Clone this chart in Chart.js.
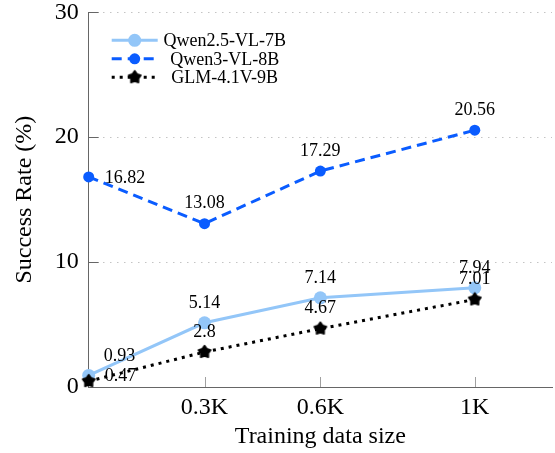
<!DOCTYPE html>
<html>
<head>
<meta charset="utf-8">
<script src="https://cdn.jsdelivr.net/npm/chart.js@4.4.1/dist/chart.umd.min.js"></script>
<style>
  html, body { margin: 0; padding: 0; background: #fff; }
  #wrap { width: 555px; height: 453px; position: relative; }
</style>
</head>
<body>
<div id="wrap"><canvas id="chart"></canvas></div>
<script>
// data ------------------------------------------------------------
const xValues = [0, 0.3, 0.6, 1.0];
const qwen25 = [0.93, 5.14, 7.14, 7.94];
const qwen3 = [16.82, 13.08, 17.29, 20.56];
const glm = [0.47, 2.8, 4.67, 7.01];
const xTickValues = [0.3, 0.6, 1.0];
const xTickLabels = ["0.3K", "0.6K", "1K"];
const yTickValues = [0, 10, 20, 30];

const serif = '"Liberation Serif", "Times New Roman", serif';
const tickFont = { family: serif, size: 24, lineHeight: 1.07 };
const titleFont = { family: serif, size: 24 };

const lightBlue = "#93C6F8",
  blue = "#0A5CFF",
  black = "#000";

// filled chunky star used as the GLM marker
function makeStar(r) {
  const s = Math.ceil(r * 2 + 3);
  const c = document.createElement("canvas");
  c.width = s; c.height = s;
  const g = c.getContext("2d");
  g.translate(s / 2, s / 2);
  g.beginPath();
  for (let i = 0; i < 10; i++) {
    const rad = i % 2 ? r * 0.62 : r;
    const a = -Math.PI / 2 + i * Math.PI / 5;
    g.lineTo(rad * Math.cos(a), rad * Math.sin(a));
  }
  g.closePath();
  g.fillStyle = black;
  g.fill();
  g.lineJoin = "round";
  g.lineWidth = 1.5;
  g.strokeStyle = black;
  g.stroke();
  return c;
}
const starImg = makeStar(6.5);

const toPoints = (ys) => xValues.map((x, i) => ({ x, y: ys[i] }));

// value labels near each point -------------------------------------
const pointLabels = {
  id: "pointLabels",
  afterDatasetsDraw(chart) {
    const ctx = chart.ctx;
    ctx.save();
    ctx.font = "18px " + serif;
    ctx.fillStyle = black;
    ctx.textBaseline = "middle";
    chart.data.datasets.forEach((ds, i) => {
      const meta = chart.getDatasetMeta(i);
      meta.data.forEach((pt, j) => {
        const v = ds.data[j].y;
        let x = pt.x, y = pt.y - 20;
        ctx.textAlign = "center";
        if (j === 0) {
          ctx.textAlign = "left";
          x = pt.x + ds.firstLabel.dx;
          y = pt.y + ds.firstLabel.dy;
        }
        ctx.fillText(String(v), x, y);
      });
    });
    ctx.restore();
  },
};

// pgfplots-like inward tick marks ----------------------------------
const innerTicks = {
  id: "innerTicks",
  beforeDatasetsDraw(chart) {
    const { ctx, chartArea: a, scales: { x, y } } = chart;
    ctx.save();
    ctx.lineWidth = 1;
    ctx.strokeStyle = "#A0A0A0";
    xTickValues.forEach((v) => {
      const px = Math.round(x.getPixelForValue(v)) + 0.5;
      ctx.beginPath(); ctx.moveTo(px, a.bottom); ctx.lineTo(px, a.bottom - 10); ctx.stroke();
    });
    ctx.strokeStyle = "#666";
    yTickValues.forEach((v) => {
      const py = Math.round(y.getPixelForValue(v)) + 0.5;
      ctx.beginPath(); ctx.moveTo(a.left, py); ctx.lineTo(a.left + 10, py); ctx.stroke();
    });
    ctx.restore();
  },
};

// legend inside the plot, text centred like pgfplots ----------------
const insideLegend = {
  id: "insideLegend",
  afterDraw(chart) {
    const { ctx, chartArea: a } = chart;
    const x0 = a.left + 23, x1 = a.left + 69, mid = (x0 + x1) / 2, textX = a.left + 136;
    ctx.save();
    ctx.font = "18px " + serif;
    ctx.textAlign = "center";
    ctx.textBaseline = "middle";
    chart.data.datasets.forEach((ds, i) => {
      const y = a.top + 28 + i * 18.5;
      ctx.strokeStyle = ds.borderColor;
      ctx.lineWidth = ds.borderWidth;
      ctx.setLineDash(ds.borderDash || []);
      ctx.beginPath(); ctx.moveTo(x0, y); ctx.lineTo(x1, y); ctx.stroke();
      ctx.setLineDash([]);
      if (ds.pointStyle === starImg) {
        ctx.drawImage(starImg, mid - starImg.width / 2, y - starImg.height / 2);
      } else {
        ctx.fillStyle = ds.borderColor;
        ctx.beginPath(); ctx.arc(mid, y, ds.pointRadius, 0, Math.PI * 2); ctx.fill();
      }
      ctx.fillStyle = black;
      ctx.fillText(ds.label, textX, y + 1);
    });
    ctx.restore();
  },
};

new Chart(document.getElementById("chart"), {
  type: "line",
  data: {
    datasets: [
      {
        label: "Qwen2.5-VL-7B",
        data: toPoints(qwen25),
        borderColor: lightBlue,
        backgroundColor: lightBlue,
        borderWidth: 3,
        pointRadius: 6.5,
        pointBorderWidth: 0,
        pointBackgroundColor: lightBlue,
        order: 2,
        clip: false,
        firstLabel: { dx: 15, dy: -19 },
      },
      {
        label: "Qwen3-VL-8B",
        data: toPoints(qwen3),
        borderColor: blue,
        backgroundColor: blue,
        borderWidth: 3,
        borderDash: [10, 6],
        pointRadius: 5.5,
        pointBorderWidth: 0,
        pointBackgroundColor: blue,
        order: 1,
        clip: false,
        firstLabel: { dx: 16, dy: 1.5 },
      },
      {
        label: "GLM-4.1V-9B",
        data: toPoints(glm),
        borderColor: black,
        backgroundColor: black,
        borderWidth: 3,
        borderDash: [3, 5],
        pointStyle: starImg,
        pointRadius: 6.5,
        order: 0,
        clip: false,
        firstLabel: { dx: 16, dy: -5 },
      },
    ],
  },
  options: {
    responsive: true,
    maintainAspectRatio: false,
    animation: false,
    layout: { autoPadding: false, padding: { top: 12.3, right: 3, left: 0, bottom: 0 } },
    plugins: { legend: { display: false }, tooltip: { enabled: false } },
    elements: { line: { tension: 0 } },
    scales: {
      x: {
        type: "linear",
        min: 0,
        max: 1.2,
        afterBuildTicks: (s) => { s.ticks = xTickValues.map((v) => ({ value: v })); },
        afterFit: (s) => { s.height = 66; s.paddingLeft = 0; s.paddingRight = 0; },
        ticks: {
          callback: (v) => xTickLabels[xTickValues.indexOf(v)],
          font: tickFont,
          color: black,
          padding: 8,
          maxRotation: 0,
          autoSkip: false,
        },
        grid: { display: false, drawTicks: false },
        border: { color: "#666", width: 1 },
        title: { display: true, text: "Training data size", font: titleFont, color: black, padding: { top: 0, bottom: 2 } },
      },
      y: {
        min: 0,
        max: 30,
        afterFit: (s) => { s.width = 88.7; s.paddingTop = 0; s.paddingBottom = 0; },
        ticks: { stepSize: 10, font: tickFont, color: black, padding: 10 },
        grid: {
          drawTicks: false,
          color: (c) => (c.tick && c.tick.value === 0 ? "rgba(0,0,0,0)" : "#C4C4C4"),
          lineWidth: 1,
        },
        border: { color: "#666", width: 1, dash: [1.5, 5.5] },
        title: { display: true, text: "Success Rate (%)", font: titleFont, color: black, padding: { top: 10.5, bottom: 0 } },
      },
    },
  },
  plugins: [innerTicks, pointLabels, insideLegend],
});
</script>
</body>
</html>
